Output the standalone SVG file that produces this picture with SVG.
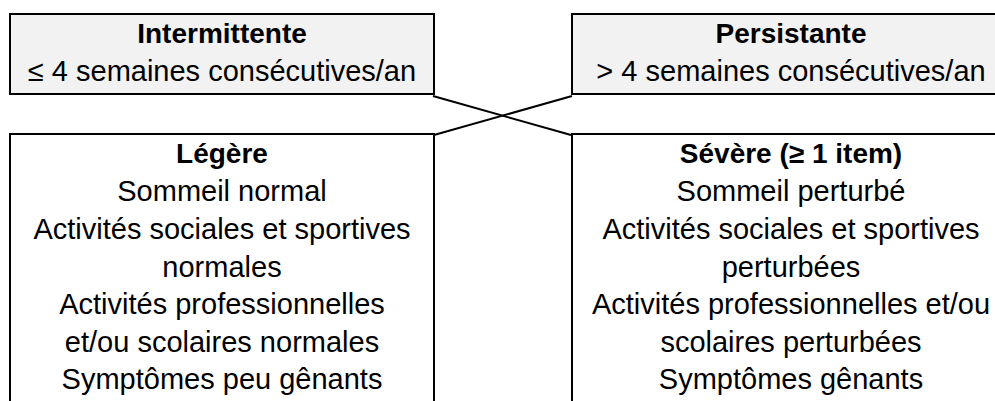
<svg xmlns="http://www.w3.org/2000/svg" width="995" height="401" viewBox="0 0 995 401">
<style>
.box{stroke:#000;stroke-width:2}
.hdr{fill:#f2f2f2}
.body{fill:#fff}
text{font-family:"Liberation Sans",Arial,sans-serif;font-size:29px;fill:#000;text-anchor:middle}
.b{font-weight:bold;font-size:28px}
.conn line{stroke:#000;stroke-width:2}
</style>
<rect width="995" height="401" fill="#fff"/>
<g id="intermittente">
<rect class="box hdr" x="10" y="14" width="424" height="80"/>
<text class="b" x="222" y="43">Intermittente</text>
<text x="222" y="81">≤ 4 semaines consécutives/an</text>
</g>
<g id="persistante">
<rect class="box hdr" x="572" y="14" width="440" height="80"/>
<text class="b" x="791" y="43">Persistante</text>
<text x="791" y="81">&gt; 4 semaines consécutives/an</text>
</g>
<g id="legere">
<rect class="box body" x="10" y="134" width="424" height="300"/>
<text class="b" x="222" y="163">Légère</text>
<text x="222" y="201">Sommeil normal</text>
<text x="222" y="239">Activités sociales et sportives</text>
<text x="222" y="277">normales</text>
<text x="222" y="314">Activités professionnelles</text>
<text x="222" y="352">et/ou scolaires normales</text>
<text x="222" y="389">Symptômes peu gênants</text>
</g>
<g id="severe">
<rect class="box body" x="572" y="134" width="440" height="300"/>
<text class="b" x="791" y="163">Sévère (≥ 1 item)</text>
<text x="791" y="201">Sommeil perturbé</text>
<text x="791" y="239">Activités sociales et sportives</text>
<text x="791" y="277">perturbées</text>
<text x="791" y="314">Activités professionnelles et/ou</text>
<text x="791" y="352">scolaires perturbées</text>
<text x="791" y="389">Symptômes gênants</text>
</g>
<g id="connectors" class="conn">
<line x1="433" y1="96" x2="571" y2="135"/>
<line x1="434" y1="135" x2="572" y2="96"/>
</g>
</svg>
